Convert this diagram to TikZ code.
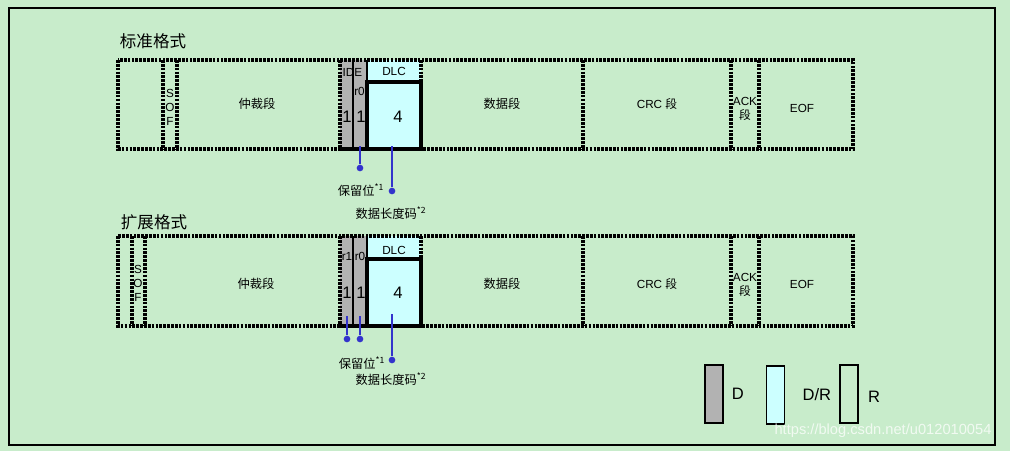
\documentclass[tikz,border=0pt]{standalone}
\usepackage{fontspec}
\setmainfont{Liberation Sans}
\newfontfamily\cjk{Noto Sans CJK SC}
\usetikzlibrary{positioning}
\definecolor{bggreen}{RGB}{200, 236, 203}
\definecolor{domgray}{RGB}{178, 178, 178}
\definecolor{dlccyan}{RGB}{204, 255, 255}
\definecolor{leadblue}{RGB}{51, 51, 204}

\begin{document}
\begin{tikzpicture}[
  x=0.75pt, y=-0.75pt,
  frame/.style={line width=2.8pt, dash pattern=on 2pt off 0.9pt},
  thinline/.style={line width=0.8pt},
  boldline/.style={line width=2.6pt},
  fld/.style={font=\fontsize{8.8}{10.5}\selectfont, inner sep=0pt, align=center},
  zh/.style={font=\cjk\fontsize{9.2}{11.5}\selectfont, inner sep=0pt, align=center},
  bit/.style={font=\fontsize{12.5}{13}\selectfont, inner sep=0pt},
  title/.style={font=\cjk\fontsize{12.4}{14}\selectfont, inner sep=0pt},
  dot/.style={circle, fill=leadblue, inner sep=0pt, minimum size=5pt},
  lead/.style={leadblue, line width=1pt},
  legbox/.style={draw, thinline, minimum width=13.5pt, minimum height=43.5pt, inner sep=0pt},
  legtxt/.style={font=\fontsize{12.4}{14}\selectfont, inner sep=0pt}
]
  \useasboundingbox (0,0) rectangle (1010,451);
  \fill[bggreen] (0,0) rectangle (1010,451);
  \draw[line width=1pt] (9,8) rectangle (995,445);

  % standard format
  \node[title] (stdtitle) at (153,41) {标准格式};
  \fill[domgray] (340,60) rectangle (367,149);
  \fill[dlccyan] (367,60) rectangle (421,149);
  \draw[frame] (118,60) rectangle (853,149);
  \draw[frame] (163,60) -- (163,149);
  \draw[frame] (177,60) -- (177,149);
  \draw[frame] (340,60) -- (340,149);
  \draw[frame] (421,60) -- (421,82);
  \draw[frame] (583,60) -- (583,149);
  \draw[frame] (731,60) -- (731,149);
  \draw[frame] (759,60) -- (759,149);
  \draw[thinline] (353,60) -- (353,149);
  \draw[thinline] (367,60) -- (367,82);
  \draw[boldline] (367,82) rectangle (421,149);
  \draw[boldline] (340,149) -- (421,149);

  \node[fld] (sofA) at (170,107) {S\\O\\F};
  \node[zh] (arbA) at (257,104) {仲裁段};
  \node[fld] (ide) at (352.5,72) {IDE};
  \node[fld] (r0A) at (359.5,91) {r0};
  \node[bit] (ideval) at (347,117) {1};
  \node[bit] (r0Aval) at (361,117) {1};
  \node[fld] (dlcA) at (394,71) {DLC};
  \node[bit] (lenA) at (398,117) {4};
  \node[zh] (dataA) at (502,104) {数据段};
  \node[fld] (crcA) at (657,104) {CRC {\cjk 段}};
  \node[fld] (ackA) at (745,109) {ACK\\{\cjk 段}};
  \node[fld] (eofA) at (802,108) {EOF};

  \coordinate (rsvtopA) at (360,146);
  \coordinate (lentopA) at (392,146);
  \node[dot] (rsvdotA) at (360,168) {};
  \node[dot] (lendotA) at (392,191) {};
  \draw[lead] (rsvtopA) -- (rsvdotA);
  \draw[lead] (lentopA) -- (lendotA);
  \node[zh] (rsvtxtA) at (361,190) {保留位\textsuperscript{*1}};
  \node[zh] (lentxtA) at (391,213) {数据长度码\textsuperscript{*2}};

  % extended format
  \node[title] (exttitle) at (154,222) {扩展格式};
  \fill[domgray] (340,236) rectangle (367,326);
  \fill[dlccyan] (367,236) rectangle (421,326);
  \draw[frame] (118,236) rectangle (853,326);
  \draw[frame] (132,236) -- (132,326);
  \draw[frame] (145,236) -- (145,326);
  \draw[frame] (340,236) -- (340,326);
  \draw[frame] (421,236) -- (421,259);
  \draw[frame] (583,236) -- (583,326);
  \draw[frame] (731,236) -- (731,326);
  \draw[frame] (759,236) -- (759,326);
  \draw[thinline] (353,236) -- (353,326);
  \draw[thinline] (367,236) -- (367,259);
  \draw[boldline] (367,259) rectangle (421,326);
  \draw[boldline] (340,326) -- (421,326);

  \node[fld] (sofB) at (138,283) {S\\O\\F};
  \node[zh] (arbB) at (256,284) {仲裁段};
  \node[fld] (r1B) at (347,256) {r1};
  \node[fld] (r0B) at (360,256) {r0};
  \node[bit] (r1Bval) at (347,293) {1};
  \node[bit] (r0Bval) at (361,293) {1};
  \node[fld] (dlcB) at (394,250) {DLC};
  \node[bit] (lenB) at (398,293) {4};
  \node[zh] (dataB) at (502,284) {数据段};
  \node[fld] (crcB) at (657,284) {CRC {\cjk 段}};
  \node[fld] (ackB) at (745,285) {ACK\\{\cjk 段}};
  \node[fld] (eofB) at (802,284) {EOF};

  \coordinate (r1topB) at (347,316);
  \coordinate (r0topB) at (360,316);
  \coordinate (lentopB) at (392,314);
  \node[dot] (r1dotB) at (347,339) {};
  \node[dot] (r0dotB) at (360,339) {};
  \node[dot] (lendotB) at (392,360) {};
  \draw[lead] (r1topB) -- (r1dotB);
  \draw[lead] (r0topB) -- (r0dotB);
  \draw[lead] (lentopB) -- (lendotB);
  \node[zh] (rsvtxtB) at (362,363) {保留位\textsuperscript{*1}};
  \node[zh] (lentxtB) at (391,379) {数据长度码\textsuperscript{*2}};

  % legend
  \node[legbox, fill=domgray] (legD) at (714,394) {};
  \node[legtxt, right=6pt of legD] (legDtxt) {D};
  \node[legbox, fill=dlccyan] (legDR) at (775.5,395) {};
  \node[legtxt, right=13pt of legDR] (legDRtxt) {D/R};
  \node[legbox] (legR) at (849,394) {};
  \node[legtxt, right=7pt of legR, yshift=-2pt] (legRtxt) {R};

  \node[font=\fontsize{11}{12}\selectfont, text=white, opacity=0.75, inner sep=0pt] (wm) at (883,431) {https://blog.csdn.net/u012010054};
\end{tikzpicture}
\end{document}
